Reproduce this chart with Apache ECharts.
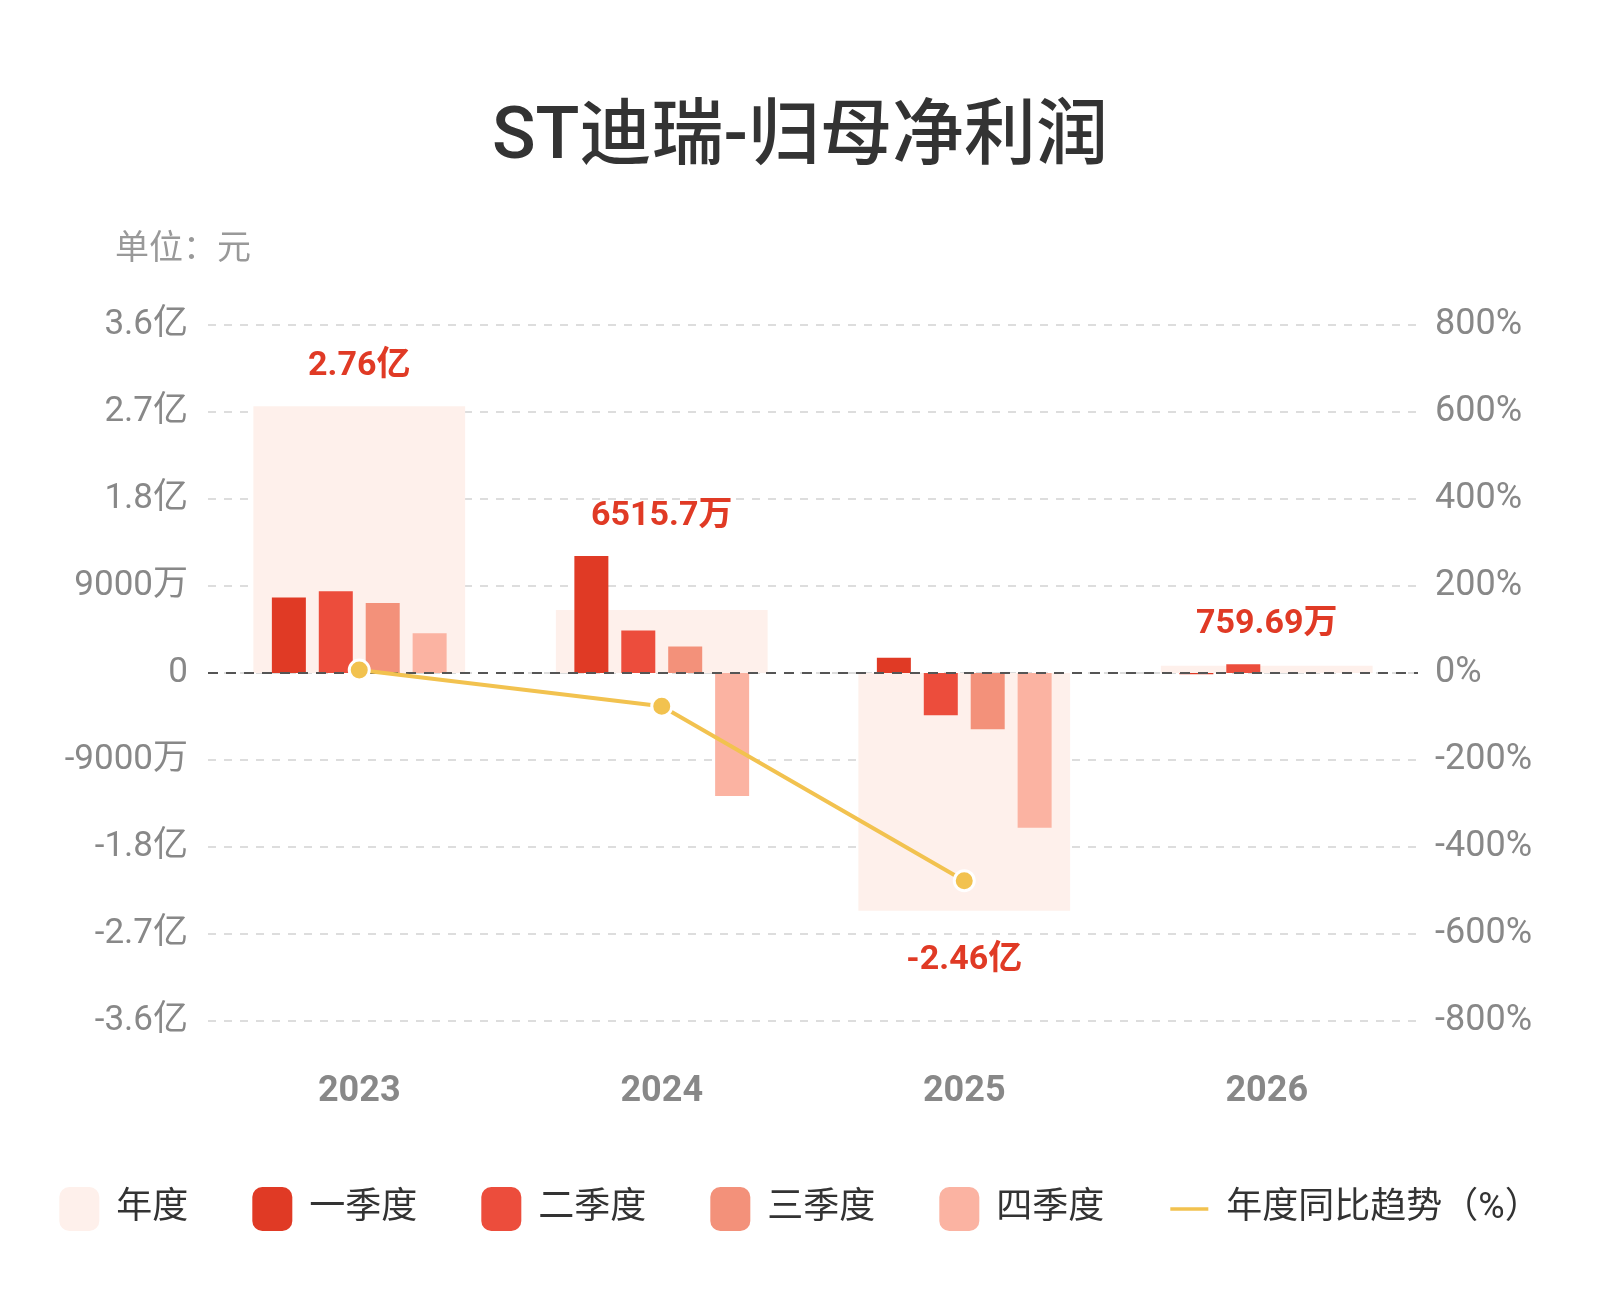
<!DOCTYPE html>
<html>
<head>
	<meta charset="UTF-8">
	<title>ST迪瑞-归母净利润</title>
	<style type="text/css">
		html, body {
			margin: 0;
			padding: 0;
			background: #fff;
		}
		#chart {
			width: 1600px;
			height: 1300px;
		}
	</style>
</head>
<body>
	<div id="chart"></div>

	<script type="text/javascript" src="https://cdn.jsdelivr.net/npm/echarts@6/dist/echarts.min.js"></script>
	<script type="text/javascript">
		// 数据（单位：元）
		var years = ['2023', '2024', '2025', '2026'];
		var annual = [276000000, 65157000, -246000000, 7596900];
		var q1 = [78000000, 121000000, 15900000, -1400000];
		var q2 = [84500000, 44000000, -43800000, 9000000];
		var q3 = [72500000, 27500000, -58200000, null];
		var q4 = [41000000, -127300000, -160000000, null];
		var yoy = [6.8, -76.4, -477.5, null];

		var FONT = 'Roboto, "Noto Sans CJK SC", sans-serif';
		var RED = '#E03A25';

		function fmtAxis(v) {
			var a = Math.abs(v);
			if (a >= 1e8) return parseFloat((v / 1e8).toFixed(2)) + '亿';
			if (a >= 1e4) return parseFloat((v / 1e4).toFixed(2)) + '万';
			return v + '';
		}

		var chart = echarts.init(document.getElementById('chart'));

		// 年度标签放在该年所有柱子的最外侧
		var labelPoints = years.map(function (y, i) {
			var vals = [annual[i], q1[i], q2[i], q3[i], q4[i]].filter(function (v) { return v != null; });
			var neg = annual[i] < 0;
			var edge = neg ? Math.min.apply(null, vals) : Math.max.apply(null, vals);
			return {
				value: edge,
				label: { position: neg ? 'bottom' : 'top' }
			};
		});

		function quarterSeries(name, data, color) {
			return {
				name: name,
				type: 'bar',
				xAxisIndex: 1,
				yAxisIndex: 0,
				data: data,
				barWidth: 34,
				barGap: '38%',
				itemStyle: { color: color },
				z: 3
			};
		}

		var option = {
			animation: false,
			textStyle: { fontFamily: FONT },
			title: [
				{
					text: 'ST迪瑞-归母净利润',
					left: 'center',
					top: 99,
					textStyle: { fontSize: 72, fontWeight: 500, color: '#333', fontFamily: FONT }
				},
				{
					text: '单位：元',
					left: 110,
					top: 229,
					textStyle: { fontSize: 34, fontWeight: 'normal', color: '#999', fontFamily: FONT }
				}
			],
			legend: {
				top: 1182,
				left: 'center',
				itemWidth: 40,
				itemHeight: 44,
				itemGap: 64,
				icon: 'roundRect',
				textStyle: { fontSize: 36, color: '#333', padding: [0, 0, 0, 12], fontFamily: FONT },
				data: [
					'年度', '一季度', '二季度', '三季度', '四季度',
					{ name: '年度同比趋势（%）', icon: 'path://M0,0 L36,0 L36,5 L0,5 Z' }
				]
			},
			grid: {
				left: 208,
				right: 182,
				top: 325,
				bottom: 279
			},
			xAxis: [
				{
					type: 'category',
					data: years,
					axisLine: { show: false },
					axisTick: { show: false },
					axisLabel: { fontSize: 36, fontWeight: 'bold', color: '#888', margin: 53 }
				},
				{
					type: 'category',
					data: years,
					show: false
				}
			],
			yAxis: [
				{
					type: 'value',
					min: -360000000,
					max: 360000000,
					interval: 90000000,
					axisLine: { show: false },
					axisTick: { show: false },
					axisLabel: { fontSize: 35, color: '#888', margin: 20, formatter: fmtAxis },
					splitLine: { lineStyle: { color: '#dddddd', width: 2, type: [8, 8] } }
				},
				{
					type: 'value',
					min: -800,
					max: 800,
					interval: 200,
					axisLine: { show: false },
					axisTick: { show: false },
					axisLabel: { fontSize: 36, color: '#888', margin: 17, formatter: '{value}%' },
					splitLine: { show: false }
				}
			],
			series: [
				{
					name: '年度',
					type: 'bar',
					xAxisIndex: 0,
					yAxisIndex: 0,
					data: annual,
					barWidth: '70%',
					itemStyle: { color: '#FEF0EB' },
					z: 1,
					markLine: {
						silent: true,
						symbol: 'none',
						label: { show: false },
						lineStyle: { color: '#555', width: 2, type: [10, 8] },
						data: [{ yAxis: 0 }]
					}
				},
				quarterSeries('一季度', q1, '#E03A25'),
				quarterSeries('二季度', q2, '#EC4D3C'),
				quarterSeries('三季度', q3, '#F3917A'),
				quarterSeries('四季度', q4, '#FBB3A2'),
				{
					name: '年度同比趋势（%）',
					type: 'line',
					xAxisIndex: 0,
					yAxisIndex: 1,
					data: yoy,
					symbol: 'circle',
					symbolSize: 20,
					lineStyle: { color: '#F2C24F', width: 4 },
					itemStyle: { color: '#F2C24F', borderColor: '#fff', borderWidth: 3 },
					z: 5
				},
				{
					name: '年度标签',
					type: 'scatter',
					xAxisIndex: 0,
					yAxisIndex: 0,
					data: labelPoints,
					symbolSize: 0,
					silent: true,
					z: 10,
					itemStyle: { opacity: 1 },
					label: {
						show: true,
						distance: 28,
						offset: [0, 5],
						fontSize: 34,
						fontWeight: 'bold',
						color: RED,
						opacity: 1,
						formatter: function (p) { return fmtAxis(annual[p.dataIndex]); }
					}
				}
			]
		};

		chart.setOption(option);
	</script>
</body>
</html>
